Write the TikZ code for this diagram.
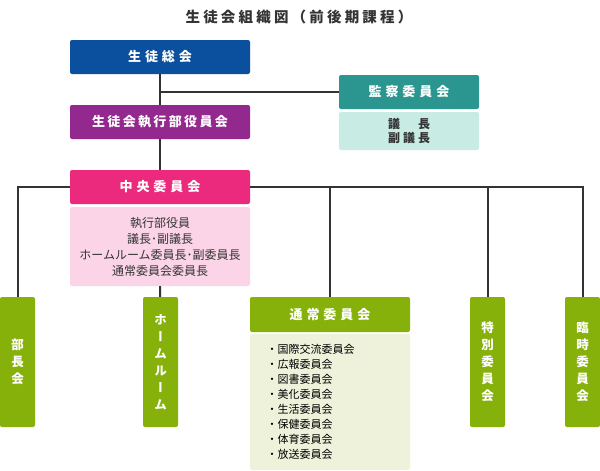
\documentclass[tikz,border=0pt]{standalone}
\usepackage{fontspec}
\newfontfamily\jp{Noto Sans CJK JP}
\newfontfamily\jpwide[LetterSpace=30]{Noto Sans CJK JP}
\newfontfamily\jpmid[LetterSpace=18]{Noto Sans CJK JP}
\newfontfamily\jpinfo[LetterSpace=25]{Noto Sans CJK JP}
\newfontfamily\jptitle[LetterSpace=22]{Noto Sans CJK JP}
\newfontfamily\jpvert[RawFeature=+vert]{Noto Sans CJK JP}
\definecolor{soukaiblue}{HTML}{0B509E}
\definecolor{shikkoupurple}{HTML}{93288E}
\definecolor{kansateal}{HTML}{2A968F}
\definecolor{kansalight}{HTML}{C8ECE3}
\definecolor{chuopink}{HTML}{EC2A7D}
\definecolor{chuolight}{HTML}{FBD5E7}
\definecolor{leafgreen}{HTML}{86B10A}
\definecolor{leaflight}{HTML}{EEF2DA}
\definecolor{linegray}{HTML}{333333}
\definecolor{textgray}{HTML}{333333}

\begin{document}
\begin{tikzpicture}[x=1pt,y=-1pt,
    head/.style={rounded corners=2pt,inner sep=0pt,minimum height=34pt,text=white,font=\jpwide\bfseries\fontsize{13}{15}\selectfont},
    info/.style={rounded corners=2pt,inner sep=0pt,text=textgray,align=center},
    tag/.style={fill=leafgreen,rounded corners=2pt,inner sep=0pt,minimum width=35pt,minimum height=130pt,text=white,align=center,font=\jpvert\bfseries\fontsize{12.5}{17}\selectfont},
    link/.style={draw=linegray,line width=2pt}]
    \useasboundingbox (0,0) rectangle (600,471);

    \node[text=textgray,font=\jptitle\bfseries\fontsize{14.5}{16}\selectfont] (title) at (299,17) {生徒会組織図（前後期課程）};

    \node[head,fill=soukaiblue,minimum width=180pt] (soukai) at (160,57) {生徒総会};
    \node[head,fill=shikkoupurple,minimum width=180pt,font=\jpmid\bfseries\fontsize{13}{15}\selectfont] (shikkou) at (160,122) {生徒会執行部役員会};
    \node[head,fill=kansateal,minimum width=140pt] (kansa) at (409,92) {監察委員会};
    \node[info,fill=kansalight,minimum width=140pt,minimum height=38pt,font=\jpinfo\bfseries\fontsize{12}{14.5}\selectfont] (kansainfo) at (409,131) {議　長\\副議長};

    \node[head,fill=chuopink,minimum width=180pt] (chuo) at (160,187) {中央委員会};
    \node[info,fill=chuolight,minimum width=180pt,minimum height=79pt,font=\jp\fontsize{12}{16}\selectfont] (chuoinfo) at (160,246.5) {執行部役員\\議長･副議長\\ホームルーム委員長･副委員長\\通常委員会委員長};

    \node[tag] (buchou) at (17.5,362) {部\\長\\会};
    \node[tag] (hr) at (160.5,362) {ホ\\ー\\ム\\ル\\ー\\ム};
    \node[head,fill=leafgreen,minimum width=160pt,minimum height=35pt] (tsujo) at (330,314.5) {通常委員会};
    \node[info,fill=leaflight,minimum width=160pt,minimum height=136pt] (tsujoinfo) at (330,402) {};
    \node[anchor=north west,inner sep=0pt,align=left,text=black,font=\jp\fontsize{11}{14.9}\selectfont] (tsujolist) at (266.5,344.5) {・国際交流委員会\\・広報委員会\\・図書委員会\\・美化委員会\\・生活委員会\\・保健委員会\\・体育委員会\\・放送委員会};
    \node[tag] (tokubetsu) at (487.5,362) {特\\別\\委\\員\\会};
    \node[tag] (rinji) at (582.5,362) {臨\\時\\委\\員\\会};

    \coordinate (kansajoin) at (soukai.south |- kansa.west);
    \coordinate (tsujojoin) at (tsujo.north |- chuo.east);
    \coordinate (tokujoin) at (tokubetsu.north |- chuo.east);
    \draw[link] (soukai) -- (shikkou);
    \draw[link] (kansajoin) -- (kansa.west);
    \draw[link] (shikkou) -- (chuo);
    \draw[link] (chuo.west) -| (buchou.north);
    \draw[link] (chuo.east) -| (rinji.north);
    \draw[link] (chuoinfo) -- (hr);
    \draw[link] (tsujojoin) -- (tsujo.north);
    \draw[link] (tokujoin) -- (tokubetsu.north);
\end{tikzpicture}
\end{document}
